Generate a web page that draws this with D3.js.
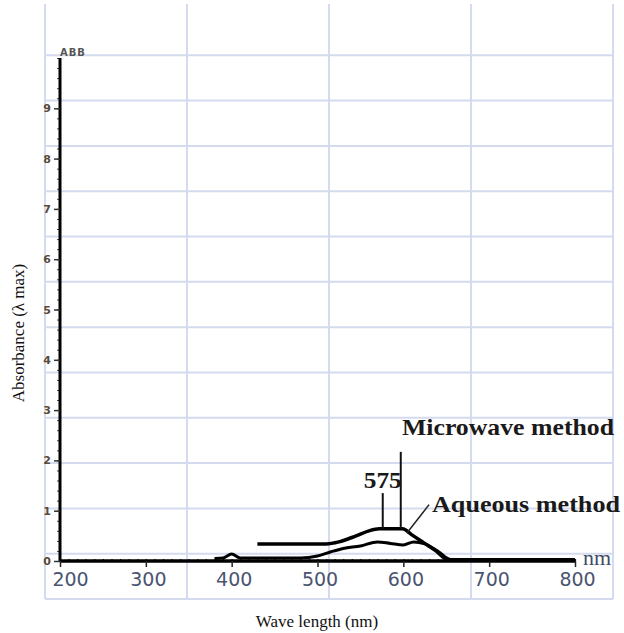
<!DOCTYPE html>
<html>
<head>
<meta charset="utf-8">
<script src="https://cdn.jsdelivr.net/npm/d3@7"></script>
<style>
  body { margin: 0; background: #fff; }
  svg { display: block; }
</style>
</head>
<body>
<div id="chart"></div>
<script>
// spectra (wavelength nm, absorbance)
const microwaveNm  = [430, 440, 480, 510, 525, 545, 560, 572, 585, 599, 610, 624, 638, 650, 660, 700, 750, 800];
const microwaveAbs = [0.34, 0.34, 0.34, 0.34, 0.38, 0.50, 0.60, 0.64, 0.64, 0.64, 0.52, 0.36, 0.20, 0.04, 0.02, 0.02, 0.02, 0.02];

const aqueousNm  = [380, 390, 400, 410, 480, 500, 515, 530, 550, 570, 585, 600, 612, 625, 640, 655, 700, 800];
const aqueousAbs = [0.05, 0.06, 0.14, 0.06, 0.06, 0.10, 0.18, 0.25, 0.30, 0.38, 0.35, 0.32, 0.38, 0.34, 0.20, 0.03, 0.03, 0.03];

const xTicks = [200, 300, 400, 500, 600, 700, 800];
const yTicks = [0, 1, 2, 3, 4, 5, 6, 7, 8, 9];

// peak markers: [wavelength, curve value, top of line]
const peakMarks = [[576, 0.64, 1.35], [597, 0.64, 2.17]];

const width = 624, height = 633;

const svg = d3.select("#chart")
  .append("svg")
  .attr("width", width)
  .attr("height", height);

// scales
const x = d3.scaleLinear().domain([200, 800]).range([60, 575]);
const y = d3.scaleLinear().domain([0, 10]).range([561, 58]);

// background grid (independent of the data scales, like the original screenshot)
const gx = d3.scaleLinear().domain([0, 4]).range([45, 613]);
const gy = d3.scaleLinear().domain([0, 13]).range([10, 599]);
const grid = svg.append("g").attr("stroke", "#d5dbee").attr("stroke-width", 2);
grid.selectAll("line.v")
  .data(d3.range(0, 5))
  .join("line")
  .attr("class", "v")
  .attr("x1", d => gx(d)).attr("x2", d => gx(d))
  .attr("y1", 4).attr("y2", gy(13));
grid.selectAll("line.h")
  .data(d3.range(1, 14))
  .join("line")
  .attr("class", "h")
  .attr("x1", gx(0)).attr("x2", gx(4))
  .attr("y1", d => gy(d)).attr("y2", d => gy(d));

// X axis: dense minor ticks + major ticks
const xAxisG = svg.append("g").attr("transform", `translate(0,${y(0)})`);
xAxisG.call(d3.axisBottom(x).tickValues(d3.range(200, 801, 10)).tickSize(3).tickFormat(""));
xAxisG.call(d3.axisTop(x).tickValues(d3.range(200, 801, 10)).tickSize(2).tickFormat(""));
xAxisG.select(".domain").remove();
xAxisG.append("line")
  .attr("x1", x(200)).attr("x2", x(800))
  .attr("stroke", "#000").attr("stroke-width", 3.5);
xAxisG.selectAll(".tick line").attr("stroke", "#111").attr("stroke-width", 1.2);

const xLab = svg.append("g").attr("transform", `translate(0,${y(0)})`)
  .call(d3.axisBottom(x).tickValues(xTicks).tickSize(6).tickPadding(6).tickFormat(d3.format("d")));
xLab.select(".domain").remove();
xLab.selectAll(".tick line").attr("stroke", "#222").attr("stroke-width", 1.5);
xLab.selectAll(".tick text")
  .attr("dx", d => d === 200 ? 10 : 2)
  .attr("font-family", "DejaVu Sans, sans-serif")
  .attr("font-size", 19)
  .attr("fill", "#4a5470");

svg.append("text")
  .attr("x", x(800) + 8).attr("y", y(0) + 4)
  .attr("font-family", "Liberation Serif, serif")
  .attr("font-size", 22)
  .attr("fill", "#3f4b66")
  .text("nm");

// Y axis: dense minor ticks, small bold digits
const yAxisG = svg.append("g").attr("transform", `translate(${x(200)},0)`);
yAxisG.call(d3.axisLeft(y).tickValues(d3.range(0, 10.01, 0.2)).tickSize(3).tickFormat(""));
yAxisG.select(".domain").remove();
yAxisG.selectAll(".tick line").attr("stroke", "#444").attr("stroke-width", 1);
yAxisG.append("line")
  .attr("y1", y(0)).attr("y2", y(10))
  .attr("stroke", "#000").attr("stroke-width", 3);

const yLab = svg.append("g").attr("transform", `translate(${x(200)},0)`)
  .call(d3.axisLeft(y).tickValues(yTicks).tickSize(6).tickPadding(3).tickFormat(d3.format("d")));
yLab.select(".domain").remove();
yLab.selectAll(".tick line").attr("stroke", "#333").attr("stroke-width", 1.5);
yLab.selectAll(".tick text")
  .attr("font-family", "DejaVu Sans, sans-serif")
  .attr("font-weight", "bold")
  .attr("font-size", 11)
  .attr("fill", "#5a4a3a");

svg.append("text")
  .attr("x", x(200)).attr("y", y(10) - 2)
  .attr("font-family", "DejaVu Sans, sans-serif")
  .attr("font-weight", "bold")
  .attr("font-size", 10)
  .attr("letter-spacing", 1)
  .attr("fill", "#555")
  .text("ABB");

// curves
const line = d3.line().x(d => x(d[0])).y(d => y(d[1])).curve(d3.curveMonotoneX);

svg.append("path")
  .datum(d3.zip(aqueousNm, aqueousAbs))
  .attr("d", line)
  .attr("fill", "none")
  .attr("stroke", "#000")
  .attr("stroke-width", 3);

svg.append("path")
  .datum(d3.zip(microwaveNm, microwaveAbs))
  .attr("d", line)
  .attr("fill", "none")
  .attr("stroke", "#000")
  .attr("stroke-width", 3.5);

// annotation lines
svg.selectAll("line.peak")
  .data(peakMarks)
  .join("line")
  .attr("class", "peak")
  .attr("x1", d => x(d[0])).attr("x2", d => x(d[0]))
  .attr("y1", d => y(d[1])).attr("y2", d => y(d[2]))
  .attr("stroke", "#111").attr("stroke-width", 2);

svg.append("line")
  .attr("x1", x(604)).attr("y1", y(0.55))
  .attr("x2", x(630)).attr("y2", y(1.12))
  .attr("stroke", "#222").attr("stroke-width", 1.5);

const annFont = "Liberation Serif, Times New Roman, serif";
svg.append("text")
  .attr("x", x(576)).attr("y", y(1.45))
  .attr("text-anchor", "middle")
  .attr("font-family", annFont).attr("font-weight", "bold").attr("font-size", 24)
  .attr("textLength", 38).attr("lengthAdjust", "spacingAndGlyphs")
  .attr("fill", "#1a1a1a")
  .text("575");

svg.append("text")
  .attr("x", 402).attr("y", y(2.5))
  .attr("font-family", annFont).attr("font-weight", "bold").attr("font-size", 24)
  .attr("textLength", 212).attr("lengthAdjust", "spacingAndGlyphs")
  .attr("fill", "#1a1a1a")
  .text("Microwave method");

svg.append("text")
  .attr("x", 432).attr("y", y(0.97))
  .attr("font-family", annFont).attr("font-weight", "bold").attr("font-size", 24)
  .attr("textLength", 188).attr("lengthAdjust", "spacingAndGlyphs")
  .attr("fill", "#1a1a1a")
  .text("Aqueous method");

// axis titles
svg.append("text")
  .attr("x", 317).attr("y", 627)
  .attr("text-anchor", "middle")
  .attr("font-family", annFont).attr("font-size", 17)
  .attr("fill", "#111")
  .text("Wave length (nm)");

svg.append("text")
  .attr("transform", `translate(24,333) rotate(-90)`)
  .attr("text-anchor", "middle")
  .attr("font-family", annFont).attr("font-size", 17)
  .attr("fill", "#111")
  .text("Absorbance (λ max)");
</script>
</body>
</html>
